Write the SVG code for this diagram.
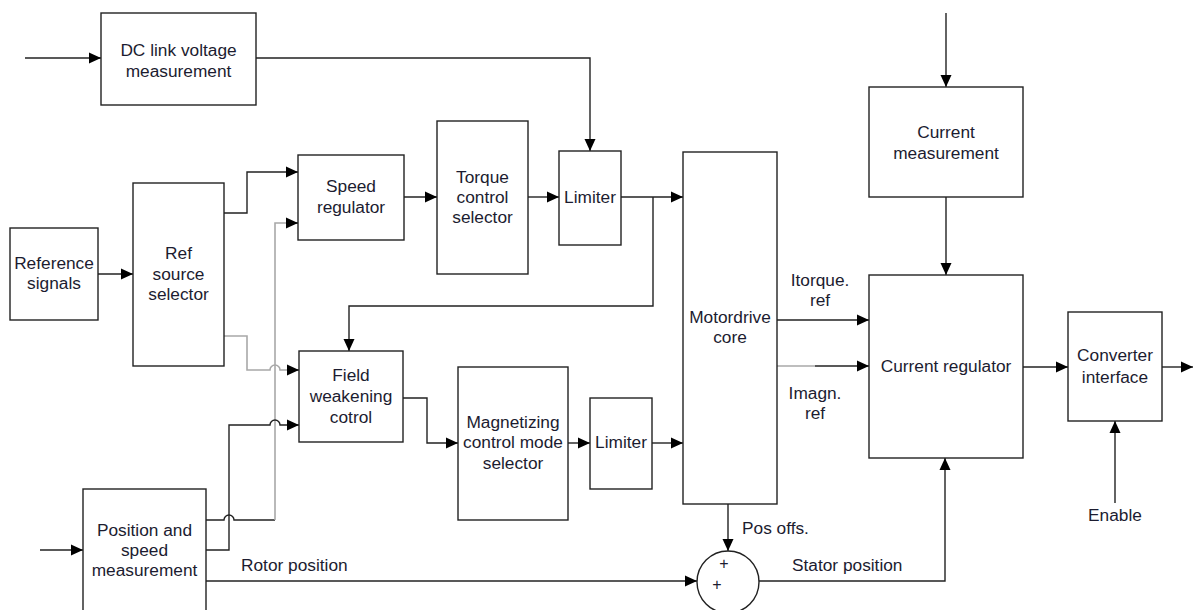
<svg xmlns="http://www.w3.org/2000/svg" width="1193" height="610" viewBox="0 0 1193 610">
<style>
.box{fill:#fff;stroke:#222;stroke-width:1.4}
.t{font-family:"Liberation Sans",Arial,sans-serif;font-size:17.3px;fill:#1c1c30;text-anchor:middle}
.ts{font-family:"Liberation Sans",Arial,sans-serif;font-size:17.3px;fill:#1c1c30}
.c{fill:none;stroke:#222;stroke-width:1.4}
.g{fill:none;stroke:#a8a8a8;stroke-width:1.6}
</style>
<defs>
<marker id="ah" markerUnits="userSpaceOnUse" markerWidth="12" markerHeight="12" refX="12" refY="6" orient="auto">
<path d="M0,0.5 L12,6 L0,11.5 z" fill="#000"/>
</marker>
</defs>
<rect width="1193" height="610" fill="#fff"/>
<g id="connectors">
<path class="c" d="M25,58 H101" marker-end="url(#ah)"/>
<path class="c" d="M256,58 H590 V151" marker-end="url(#ah)"/>
<path class="c" d="M98,274 H133" marker-end="url(#ah)"/>
<path class="c" d="M224,213 H247 V172 H298" marker-end="url(#ah)"/>
<path class="c" d="M206,520 H224 a5,5 0 0 1 10,0 H275"/>
<path class="g" d="M275,520 V223 H298"/>
<path class="c" d="M288,223 H298" marker-end="url(#ah)"/>
<path class="g" d="M224,336 H247 V370 H270 a5,5 0 0 1 10,0 H290"/>
<path class="c" d="M288,370 H299" marker-end="url(#ah)"/>
<path class="c" d="M206,550 H229 V425 H270 a5,5 0 0 1 10,0 H299" marker-end="url(#ah)"/>
<path class="c" d="M404,197 H437" marker-end="url(#ah)"/>
<path class="c" d="M528,197 H559" marker-end="url(#ah)"/>
<path class="c" d="M621,197 H683" marker-end="url(#ah)"/>
<path class="c" d="M653,197 V306 H349 V351" marker-end="url(#ah)"/>
<path class="c" d="M403,398 H427 V443 H458" marker-end="url(#ah)"/>
<path class="c" d="M568,443 H590" marker-end="url(#ah)"/>
<path class="c" d="M652,443 H683" marker-end="url(#ah)"/>
<path class="c" d="M777,320 H869" marker-end="url(#ah)"/>
<path class="g" d="M777,366 H815"/>
<path class="c" d="M815,366 H869" marker-end="url(#ah)"/>
<path class="c" d="M728,504 V551" marker-end="url(#ah)"/>
<path class="c" d="M206,581 H697" marker-end="url(#ah)"/>
<path class="c" d="M759,581 H945 V458" marker-end="url(#ah)"/>
<path class="c" d="M946,13 V87" marker-end="url(#ah)"/>
<path class="c" d="M946,197 V275" marker-end="url(#ah)"/>
<path class="c" d="M1023,367 H1068" marker-end="url(#ah)"/>
<path class="c" d="M1162,367 H1193" marker-end="url(#ah)"/>
<path class="c" d="M1115,503 V421" marker-end="url(#ah)"/>
<path class="c" d="M40,550 H83" marker-end="url(#ah)"/>
</g>
<g id="dclink"><rect class="box" x="101" y="13" width="155" height="92"/><text class="t" x="178.5" y="56">DC link voltage</text><text class="t" x="178.5" y="77">measurement</text></g>
<g id="currentmeas"><rect class="box" x="869" y="87" width="154" height="110"/><text class="t" x="946" y="138">Current</text><text class="t" x="946" y="159">measurement</text></g>
<g id="currentreg"><rect class="box" x="869" y="275" width="154" height="183"/><text class="t" x="946" y="372">Current regulator</text></g>
<g id="converter"><rect class="box" x="1068" y="312" width="94" height="109"/><text class="t" x="1115" y="361">Converter</text><text class="t" x="1115" y="383">interface</text></g>
<g id="refsignals"><rect class="box" x="10" y="228" width="88" height="92"/><text class="t" x="54" y="269">Reference</text><text class="t" x="54" y="289">signals</text></g>
<g id="refsource"><rect class="box" x="133" y="183" width="91" height="183"/><text class="t" x="178.5" y="259">Ref</text><text class="t" x="178.5" y="280">source</text><text class="t" x="178.5" y="300">selector</text></g>
<g id="speedreg"><rect class="box" x="298" y="155" width="106" height="85"/><text class="t" x="351" y="192">Speed</text><text class="t" x="351" y="213">regulator</text></g>
<g id="torquesel"><rect class="box" x="437" y="121" width="91" height="153"/><text class="t" x="482.5" y="183">Torque</text><text class="t" x="482.5" y="203">control</text><text class="t" x="482.5" y="223">selector</text></g>
<g id="limiter1"><rect class="box" x="559" y="151" width="62" height="94"/><text class="t" x="590" y="203">Limiter</text></g>
<g id="fieldweak"><rect class="box" x="299" y="351" width="104" height="91"/><text class="t" x="351" y="381">Field</text><text class="t" x="351" y="402">weakening</text><text class="t" x="351" y="423">cotrol</text></g>
<g id="magsel"><rect class="box" x="458" y="367" width="110" height="153"/><text class="t" x="513" y="428">Magnetizing</text><text class="t" x="513" y="448">control mode</text><text class="t" x="513" y="469">selector</text></g>
<g id="limiter2"><rect class="box" x="590" y="398" width="62" height="91"/><text class="t" x="621" y="448">Limiter</text></g>
<g id="core"><rect class="box" x="683" y="152" width="94" height="352"/><text class="t" x="730" y="323">Motordrive</text><text class="t" x="730" y="343">core</text></g>
<g id="possense"><rect class="box" x="83" y="489" width="123" height="130"/><text class="t" x="144.5" y="536">Position and</text><text class="t" x="144.5" y="556">speed</text><text class="t" x="144.5" y="576">measurement</text></g>
<g id="sum"><circle cx="728" cy="582" r="31" fill="#fff" stroke="#222" stroke-width="1.4"/><text class="t" x="724" y="569" style="font-size:16px">+</text><text class="t" x="717" y="590" style="font-size:16px">+</text></g>
<g id="labels">
<text class="t" x="820" y="286">Itorque.</text><text class="t" x="820" y="306">ref</text>
<text class="t" x="815" y="399">Imagn.</text><text class="t" x="815" y="419">ref</text>
<text class="ts" x="742" y="534">Pos offs.</text>
<text class="ts" x="792" y="571">Stator position</text>
<text class="ts" x="241" y="571">Rotor position</text>
<text class="t" x="1115" y="521">Enable</text>
</g>
</svg>
